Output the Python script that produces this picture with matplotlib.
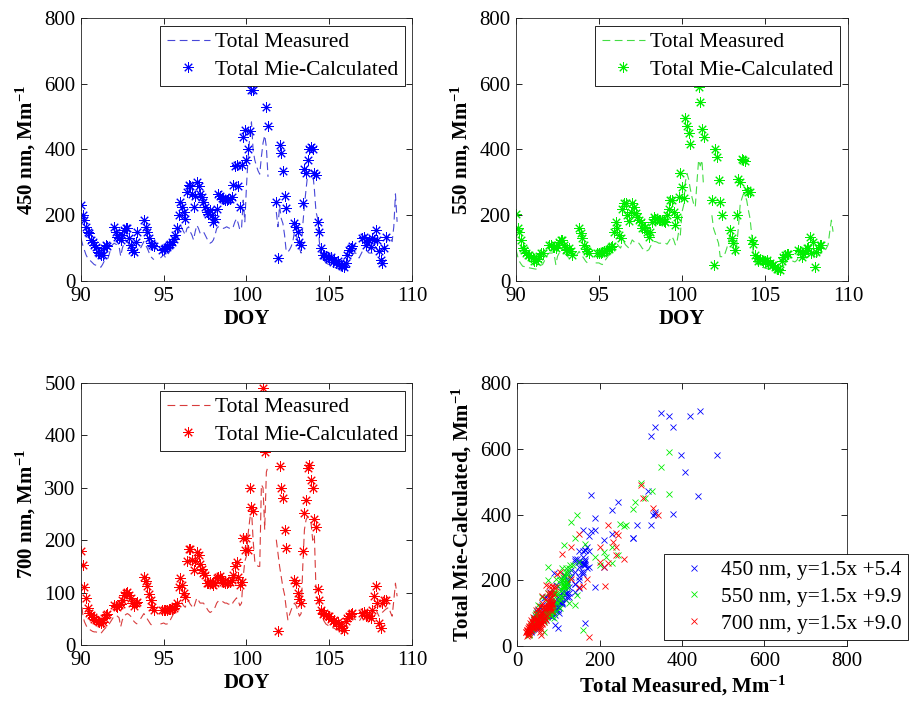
import numpy as np
import matplotlib
matplotlib.use("Agg")
import matplotlib.pyplot as plt
from matplotlib.lines import Line2D

plt.rcParams["font.family"] = ["Liberation Serif", "DejaVu Serif"]
plt.rcParams["mathtext.fontset"] = "custom"
plt.rcParams["mathtext.rm"] = "Liberation Serif"
plt.rcParams["mathtext.bf"] = "Liberation Serif:bold"
plt.rcParams["mathtext.default"] = "bf"

nan = np.nan

# Day of year of each sample (shared by the three wavelengths)
doy = [90.0, 90.1, 90.2, 90.3, 90.4, 90.5, 90.6, 90.7, 90.8, 90.9,
       91.0, 91.1, 91.2, 91.3, 91.4, 91.5, 91.6, 91.7, 91.8, 91.9,
       92.0, 92.1, 92.2, 92.3, 92.4, 92.5, 92.6, 92.7, 92.8, 92.9,
       93.0, 93.1, 93.2, 93.3, 93.4, 93.5, 93.6, 93.7, 93.8, 93.9,
       94.0, 94.1, 94.2, 94.3, 94.4, 94.5, 94.6, 94.7, 94.8, 94.9,
       95.0, 95.1, 95.2, 95.3, 95.4, 95.5, 95.6, 95.7, 95.8, 95.9,
       96.0, 96.1, 96.2, 96.3, 96.4, 96.5, 96.6, 96.7, 96.8, 96.9,
       97.0, 97.1, 97.2, 97.3, 97.4, 97.5, 97.6, 97.7, 97.8, 97.9,
       98.0, 98.1, 98.2, 98.3, 98.4, 98.5, 98.6, 98.7, 98.8, 98.9,
       99.0, 99.1, 99.2, 99.3, 99.4, 99.5, 99.6,
       99.7, 99.8, 99.9, 100.0, 100.1, 100.2, 100.3, 100.4, 100.5, 100.6,
       100.7, 100.8, 100.9, 101.0, 101.1, 101.2, 101.3, 101.4, 101.5, 101.6,
       101.7, 101.8, 101.9, 102.0, 102.1, 102.2, 102.3, 102.4, 102.5, 102.6,
       102.7, 102.8, 102.9, 103.0, 103.1, 103.2, 103.3, 103.4, 103.5, 103.6,
       103.7, 103.8, 103.9, 104.0, 104.1, 104.2, 104.3, 104.4, 104.5, 104.6,
       104.7, 104.8, 104.9,
       105.0, 105.1, 105.2, 105.3, 105.4, 105.5, 105.6, 105.7, 105.8, 105.9,
       106.0, 106.1, 106.2, 106.3, 106.4, 106.5, 106.6, 106.7, 106.8, 106.9,
       107.0, 107.1, 107.2, 107.3, 107.4, 107.5, 107.6, 107.7, 107.8, 107.9,
       108.0, 108.1, 108.2, 108.3, 108.4, 108.5, 108.6, 108.7, 108.8, 108.9,
       109.0, 109.1]

# Total extinction, measured (Mm^-1)
meas_450 = [130, 110, 95, 80, 70, 65, 60, 55, 50, 48,
            45, 44, 42, 50, 60, 62, 65, 80, 100, 110,
            115, 112, 110, 105, 75, 100, 115, 118, 120, 110,
            100, 92, 85, 82, 80, nan, 100, 110, 120, 110,
            100, 88, 75, 70, 65, nan, nan, nan, 70, 75,
            80, 72, 75, 85, 95, 100, 110, 118, 125, 150,
            175, 160, 150, 140, 160, 165, 150, 140, 125, 150,
            170, 160, 145, 148, 150, 140, 130, 120, 115, 118,
            125, 140, 160, 165, 165, 162, 160, 162, 165, 162,
            160, 158, 165, 180, 190, 175, 155,
            160, 246, 180, 290, 378, 438, 484, 398, 368, 350,
            335, 325, 378, 420, 443, 408, 317, nan, nan, nan,
            nan, 210, 165, 230, 190, 175, 140, 90, 88, 95,
            105, 120, 150, 140, 125, 100, 85, 170, 230, 280,
            325, 335, 335, 330, 280, 210, 190, 120, 80, 70,
            62, 55, 52,
            50, 48, 45, 42, 40, 40, 38, 36, 35, 34,
            40, 55, 65, 72, 80, 85, 85, 78, 70, 80,
            90, 92, 95, 90, 85, 85, 85, 95, 105, 95,
            85, 92, 100, 102, 105, 125, 140, 130, 120, 165,
            265, 180]
meas_550 = [95, 75, 60, 52, 45, 44, 42, 41, 40, 39,
            38, 37, 36, 40, 45, 48, 50, 60, 70, 80,
            85, 85, 85, 80, 50, 75, 85, 88, 90, 85,
            80, 75, 70, 68, 65, nan, 75, 82, 90, 82,
            75, 68, 60, 55, 50, nan, nan, nan, 55, 55,
            55, 52, 50, 58, 65, 72, 80, 88, 95, 110,
            120, 112, 105, 100, 115, 118, 110, 105, 100, 112,
            125, 120, 115, 115, 115, 108, 100, 95, 90, 92,
            95, 105, 115, 120, 120, 118, 115, 115, 115, 115,
            115, 112, 120, 128, 135, 125, 110,
            120, 150, 140, 210, 230, 300, 327, 310, 280, 255,
            235, 225, 300, 368, 350, 368, 287, nan, nan, nan,
            nan, 200, 160, 145, 130, 115, 74, 74, 74, 85,
            100, 120, 145, 125, 105, 80, 110, 165, 230, 250,
            265, 260, 245, 215, 190, 140, 80, 60, 52, 48,
            45, 42, 41,
            40, 38, 36, 35, 33, 32, 30, 29, 28, 28,
            35, 45, 55, 58, 60, 62, 62, 60, 58, 62,
            70, 68, 65, 68, 70, 72, 75, 82, 90, 78,
            65, 72, 80, 82, 85, 88, 90, 100, 110, 150,
            185, 150]
meas_700 = [95, 60, 45, 38, 32, 30, 28, 26, 25, 25,
            24, 23, 22, 26, 30, 33, 35, 40, 45, 50,
            55, 56, 55, 52, 35, 48, 55, 58, 60, 58,
            55, 50, 45, 42, 40, nan, 50, 55, 60, 55,
            50, 45, 40, 37, 35, nan, nan, nan, 40, 41,
            42, 40, 40, 44, 48, 54, 60, 65, 70, 78,
            85, 80, 75, 72, 82, 84, 78, 74, 70, 80,
            90, 85, 80, 80, 80, 75, 70, 65, 62, 64,
            68, 72, 80, 84, 85, 84, 82, 80, 80, 78,
            78, 76, 82, 86, 90, 84, 75,
            80, 130, 160, 170, 213, 240, 260, 200, 160, 155,
            150, 150, 306, 300, 220, 330, 341, nan, nan, nan,
            nan, 201, 175, 150, 130, 110, 96, 70, 48, 58,
            67, 75, 80, 75, 65, 55, 60, 150, 220, 239,
            245, 240, 233, 200, 210, 105, 86, 67, 55, 50,
            45, 40, 38,
            36, 35, 33, 32, 30, 29, 28, 27, 26, 25,
            30, 38, 45, 48, 50, 50, 48, 46, 45, 50,
            55, 54, 52, 54, 55, 58, 60, 65, 70, 62,
            55, 58, 62, 65, 68, 70, 72, 62, 55, 85,
            118, 93]

# Total extinction, Mie-calculated (Mm^-1)
calc_450 = [230, 200, 185, 165, 150, 145, 125, 120, 110, 104,
            88, 84, 78, 80, 100, 109, 105, nan, nan, nan,
            165, 150, 135, 130, 125, 140, 155, 162, 160, 130,
            110, 95, 88, 120, 150, nan, nan, nan, 185, 165,
            150, 130, 115, 108, 105, nan, nan, nan, nan, 95,
            98, 100, 104, 110, 114, 120, 128, 140, 160, 200,
            240, 226, 210, 190, 270, 292, 290, 266, 225, 260,
            302, 290, 266, 255, 240, 225, 211, 205, 216, 200,
            180, 190, 220, 266, 258, 251, 248, 246, 246, 250,
            250, 255, 292, 350, 353, 290, 225,
            352, 438, 459, 368, 403, 457, 580, 582, 700, 710,
            665, 640, 665, 700, 715, 530, 470, nan, nan, nan,
            nan, 240, 70, 415, 390, 335, 260, 222, nan, nan,
            nan, nan, 175, 165, 150, 120, 108, 236, 340, 330,
            368, 403, 408, 400, 327, 322, 180, 150, 100, 80,
            78, 75, 72,
            68, 74, 58, 64, 55, 60, 52, 48, 45, 44,
            55, 80, 95, 100, 105, nan, nan, nan, nan, nan,
            130, 135, 110, 120, 125, 104, 130, 125, 155, 125,
            90, 64, 55, 99, 135, nan, nan, nan, nan, nan,
            nan, nan]
calc_550 = [205, 160, 150, 125, 100, 94, 85, 80, 78, 74,
            70, 62, 60, 66, 75, 84, 85, nan, nan, nan,
            110, 108, 104, 102, 100, 110, 120, 126, 125, 110,
            94, 98, 100, 92, 80, nan, nan, nan, 160, 145,
            130, 110, 96, 90, 84, nan, nan, nan, nan, 84,
            84, 86, 88, 90, 92, 94, 96, 104, 105, 150,
            180, 160, 140, 130, 220, 236, 236, 200, 182, 210,
            236, 225, 206, 195, 185, 178, 162, 160, 165, 150,
            135, 150, 180, 196, 190, 190, 186, 185, 185, 182,
            180, 200, 220, 246, 246, 211, 170,
            195, 255, 327, 287, 252, 497, 471, 449, 416, nan,
            nan, nan, nan, 590, 545, 462, 438, nan, nan, nan,
            nan, 246, 48, 400, 377, 307, 241, 201, nan, nan,
            nan, nan, 155, 130, 115, 94, 200, 310, 300, 372,
            368, 365, 277, 272, 270, 125, 114, 80, 70, 62,
            66, 65, 62,
            60, 64, 52, 56, 48, 50, 42, 38, 36, 34,
            60, 72, 80, 82, 82, nan, nan, nan, nan, nan,
            94, 90, 74, 82, 90, 99, 100, 135, 84, 120,
            44, 89, 100, 109, 110, nan, nan, nan, nan, nan,
            nan, nan]
calc_700 = [180, 153, 110, 89, 70, 62, 58, 54, 50, 48,
            46, 44, 42, 44, 52, 58, 60, nan, nan, nan,
            76, 75, 73, 76, 78, 86, 95, 100, 102, 96,
            90, 80, 75, 80, 83, nan, nan, nan, 130, 122,
            112, 98, 85, 73, 67, nan, nan, nan, nan, 67,
            67, 66, 67, 68, 68, 69, 70, 74, 80, 110,
            127, 115, 100, 92, 160, 184, 184, 162, 143, 160,
            178, 172, 155, 145, 138, 134, 118, 118, 120, 118,
            115, 118, 128, 130, 132, 125, 120, 118, 118, 120,
            120, 125, 134, 150, 159, 130, 115,
            120, 205, 181, 204, 181, 300, 264, 255, nan, nan,
            nan, nan, 450, 490, 369, 420, 400, nan, nan, nan,
            nan, nan, 26, 341, 300, 280, 220, 185, nan, nan,
            nan, nan, 125, 118, 100, 88, 80, 179, 252, 277,
            338, 344, 315, 300, 240, 225, 106, 86, 67, 60,
            62, 58, 56,
            55, 50, 46, 48, 42, 44, 37, 36, 32, 29,
            45, 52, 56, 60, 61, nan, nan, nan, nan, nan,
            61, 63, 55, 58, 55, 52, 67, 93, 112, 80,
            42, 32, 80, 85, 85, nan, nan, nan, nan, nan,
            nan, nan]

wavelengths = ["450", "550", "700"]
fit_labels = ["450 nm, y=1.5x +5.4", "550 nm, y=1.5x +9.9", "700 nm, y=1.5x +9.0"]
y_limits = [800, 800, 500]
y_steps = [200, 200, 100]

marker_colors = ["#0000ff", "#00ee00", "#ff0000"]
line_colors = ["#4848d8", "#44dd44", "#d83c3c"]
star = (8, 2, 0)
dash = (0, (7, 4))

fig = plt.figure(figsize=(9.12, 7.02), dpi=100)
W, H = 912.0, 702.0
rects = [(81, 18, 331, 263), (516, 18, 332, 263), (81, 383, 331, 262), (517, 383, 330, 263)]
axes = [fig.add_axes([x / W, 1 - (y + h) / H, w / W, h / H]) for x, y, w, h in rects]


def style(ax):
    ax.tick_params(direction="in", top=True, right=True, length=4.5, width=0.6,
                   labelsize=15, pad=4)
    for s in ax.spines.values():
        s.set_linewidth(0.6)
        s.set_color("#222222")


series_meas = [meas_450, meas_550, meas_700]
series_calc = [calc_450, calc_550, calc_700]
legend_x = [0.979, 0.976, 0.979]

for i in range(3):
    ax = axes[i]
    ax.plot(doy, series_meas[i], color=line_colors[i], lw=0.8, ls=dash)
    ax.plot(doy, series_calc[i], ls="none", marker=star, ms=7.5, mew=0.7,
            color=marker_colors[i])
    ax.set_xlim(90, 110)
    ax.set_ylim(0, y_limits[i])
    ax.set_xticks(np.arange(90, 111, 5))
    ax.set_yticks(np.arange(0, y_limits[i] + 1, y_steps[i]))
    style(ax)
    ax.set_xlabel("DOY", fontsize=15, fontweight="bold")
    ax.set_ylabel(wavelengths[i] + " nm, Mm$^{-1}$", fontsize=15, fontweight="bold")
    ax.yaxis.set_label_coords(-0.13, 0.5)
    ax.xaxis.set_label_coords(0.5, -0.105)
    handles = [Line2D([], [], color=line_colors[i], lw=0.8, ls=dash),
               Line2D([], [], ls="none", marker=star, ms=7.5, mew=0.7, color=marker_colors[i])]
    leg = ax.legend(handles, ["Total Measured", "Total Mie-Calculated"],
                    loc="upper right", bbox_to_anchor=(legend_x[i], 0.97),
                    borderaxespad=0, fancybox=False, edgecolor="black",
                    framealpha=1, fontsize=15.5, handlelength=2.0,
                    handletextpad=0.25, labelspacing=0.35, borderpad=0.3)
    leg.get_frame().set_linewidth(0.6)

# Calculated versus measured
ax = axes[3]
for i in range(3):
    ax.plot(series_meas[i], series_calc[i], ls="none", marker="x", ms=5, mew=0.6,
            color=marker_colors[i], label=fit_labels[i])
ax.set_xlim(0, 800)
ax.set_ylim(0, 800)
ax.set_xticks(np.arange(0, 801, 200))
ax.set_yticks(np.arange(0, 801, 200))
style(ax)
ax.set_xlabel("Total Measured, Mm$^{-1}$", fontsize=15, fontweight="bold")
ax.set_ylabel("Total Mie-Calculated, Mm$^{-1}$", fontsize=15, fontweight="bold")
ax.yaxis.set_label_coords(-0.13, 0.5)
ax.xaxis.set_label_coords(0.5, -0.105)
leg = ax.legend(loc="lower left", bbox_to_anchor=(664 / W, 1 - 640 / H),
                bbox_transform=fig.transFigure, borderaxespad=0, fancybox=False,
                edgecolor="black", framealpha=1, fontsize=15.5, handlelength=2.2,
                handletextpad=0.15, labelspacing=0.3, borderpad=0.3)
leg.get_frame().set_linewidth(0.6)

fig.savefig("out.png", dpi=100)
